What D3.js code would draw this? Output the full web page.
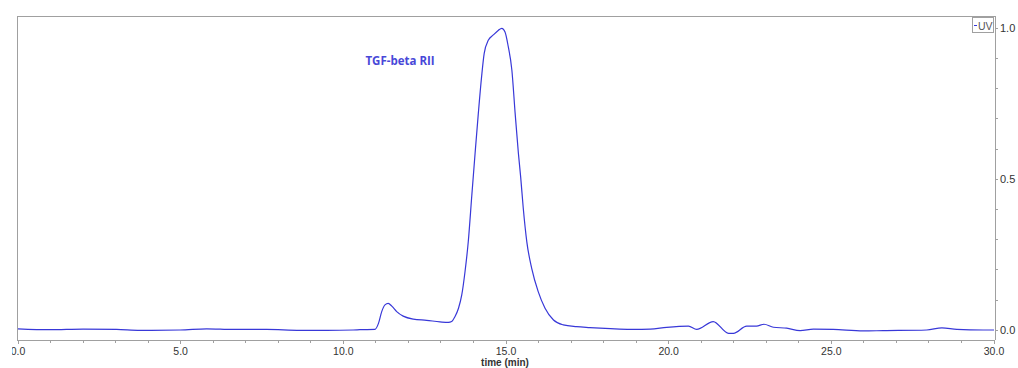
<!DOCTYPE html>
<html><head><meta charset="utf-8">
<script src="https://cdn.jsdelivr.net/npm/d3@7"></script>
<style>
html,body{margin:0;padding:0;background:#fff;}
svg{display:block;font-family:"Open Sans","Noto Sans",sans-serif;}
</style></head>
<body><svg id="c" width="1018" height="368"></svg>
<script>
const timeMin = [0, 0.98, 2.0, 3.03, 3.75, 4.98, 5.8, 6.62, 7.64, 8.67, 9.49, 10.3, 10.51, 10.97, 11.08, 11.18, 11.28, 11.38, 11.49, 11.64, 11.84, 12.15, 12.56, 12.97, 13.23, 13.33, 13.43, 13.54, 13.64, 13.74, 13.84, 13.95, 14.05, 14.15, 14.25, 14.33, 14.46, 14.61, 14.76, 14.87, 14.97, 15.07, 15.18, 15.28, 15.38, 15.45, 15.53, 15.64, 15.79, 15.99, 16.20, 16.46, 16.76, 17.17, 17.58, 17.89, 18.92, 19.43, 19.94, 20.61, 20.86, 21.37, 21.84, 21.99, 22.4, 22.7, 22.93, 23.22, 23.63, 24.04, 24.45, 25.06, 25.98, 26.6, 27.93, 28.4, 28.86, 29.67, 30.0];
const uvSignal = [0.005, 0.002, 0.004, 0.003, 0.0, 0.001, 0.005, 0.003, 0.003, 0.0, 0.0, 0.001, 0.002, 0.003, 0.023, 0.062, 0.084, 0.089, 0.080, 0.062, 0.047, 0.037, 0.033, 0.028, 0.026, 0.029, 0.045, 0.073, 0.117, 0.194, 0.293, 0.448, 0.586, 0.719, 0.840, 0.917, 0.961, 0.978, 0.993, 1.0, 0.988, 0.939, 0.862, 0.720, 0.587, 0.509, 0.405, 0.293, 0.205, 0.128, 0.073, 0.034, 0.018, 0.012, 0.009, 0.007, 0.003, 0.004, 0.010, 0.014, 0.003, 0.029, -0.010, -0.010, 0.014, 0.014, 0.020, 0.010, 0.007, -0.001, 0.004, 0.003, -0.002, -0.001, 0.001, 0.008, 0.003, 0.001, 0.001];
const xMajorTicks = [0, 5, 10, 15, 20, 25, 30];
const xTickLabels = ["0.0", "5.0", "10.0", "15.0", "20.0", "25.0", "30.0"];
const yMajorTicks = [0, 0.5, 1.0];
const yTickLabels = ["0.0", "0.5", "1.0"];
const sampleName = "TGF-beta RII";
const xTitle = "time (min)";
const legendLabel = "UV";

const svg = d3.select("#c");
const axisColor = "#a0a0a0";
const textColor = "#333";
const lineColor = "#3838d8";
const axisFont = "'Liberation Sans', Arial, sans-serif";

const x = d3.scaleLinear().domain([0, 30]).range([18, 994]);
const y = d3.scaleLinear().domain([0, 1]).range([330.3, 28.3]);
const pLeft = 17, pRight = 995, pTop = 16, pBottom = 340;

// frame
svg.append("path").attr("d", `M${pLeft},${pBottom}V${pTop}H${pRight}`)
  .attr("fill", "none").attr("stroke", axisColor).attr("stroke-width", 1).attr("shape-rendering","crispEdges");

// x axis
const xAxisG = svg.append("g").attr("transform", `translate(0,${pBottom})`);
xAxisG.append("line").attr("x1", pLeft).attr("x2", pRight).attr("stroke", axisColor).attr("shape-rendering","crispEdges");
xAxisG.selectAll("line.minor").data(d3.range(0, 31, 1)).enter().append("line")
  .attr("x1", d => x(d)).attr("x2", d => x(d)).attr("y1", 0).attr("y2", d => d % 5 === 0 ? 4 : 3)
  .attr("stroke", axisColor).attr("shape-rendering","crispEdges");
svg.append("clipPath").attr("id","xclip").append("rect").attr("x",12).attr("y",340).attr("width",1006).attr("height",28);
svg.append("g").attr("clip-path","url(#xclip)")
  .selectAll("text").data(xMajorTicks).enter().append("text")
  .attr("x", d => x(d)).attr("y", pBottom + 14.5).attr("text-anchor", "middle")
  .attr("font-family", axisFont)
  .attr("font-size", 10.5).attr("fill", textColor).text((d, i) => xTickLabels[i]);
svg.append("text").attr("x", 505).attr("y", 366).attr("text-anchor","middle")
  .attr("font-family", axisFont)
  .attr("font-size", 10).attr("font-weight","bold").attr("fill", textColor).text(xTitle);

// y axis (right)
const yAxisG = svg.append("g").attr("transform", `translate(${pRight},0)`);
yAxisG.append("line").attr("y1", pTop).attr("y2", pBottom).attr("stroke", axisColor).attr("shape-rendering","crispEdges");
yAxisG.selectAll("line.t").data(d3.range(0, 11).map(d => d / 10)).enter().append("line")
  .attr("x1", 0).attr("x2", 3).attr("y1", d => y(d)).attr("y2", d => y(d))
  .attr("stroke", axisColor).attr("shape-rendering","crispEdges");
yAxisG.selectAll("text").data(yMajorTicks).enter().append("text")
  .attr("x", 5).attr("y", d => y(d)).attr("dy", "0.35em")
  .attr("font-family", axisFont)
  .attr("font-size", 11).attr("fill", textColor).text((d, i) => yTickLabels[i]);

// line
const line = d3.line().x((d, i) => x(timeMin[i])).y(d => y(d)).curve(d3.curveMonotoneX);
svg.append("path").datum(uvSignal).attr("d", line)
  .attr("fill", "none").attr("stroke", lineColor).attr("stroke-width", 1.2);

// sample label
svg.append("text").attr("x", 400).attr("y", 65).attr("text-anchor","middle")
  .attr("font-size", 11.5).attr("font-weight","bold").attr("fill", "#4848d8").text(sampleName);

// legend
const lg = svg.append("g");
lg.append("rect").attr("x", 972.5).attr("y", 17.5).attr("width", 21).attr("height", 15)
  .attr("fill", "#fff").attr("stroke", axisColor);
lg.append("line").attr("x1", 974).attr("x2", 977).attr("y1", 25.5).attr("y2", 25.5).attr("stroke", lineColor);
lg.append("text").attr("x", 978).attr("y", 29.5).attr("font-family", axisFont).attr("font-size", 10.5).attr("fill", "#555").text(legendLabel);
</script></body></html>
